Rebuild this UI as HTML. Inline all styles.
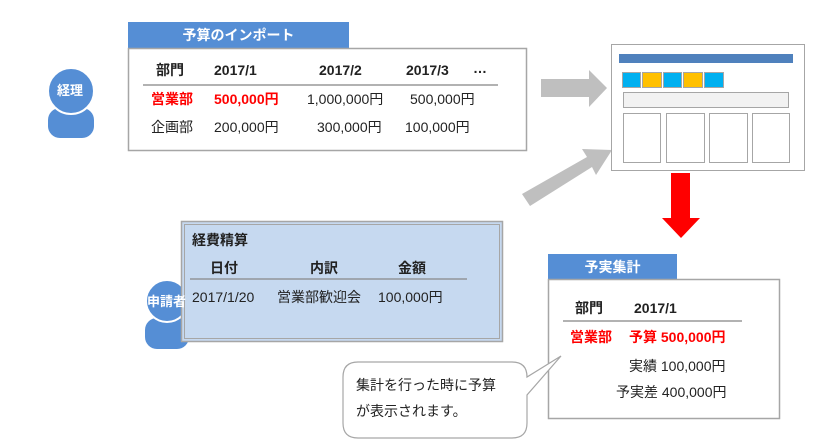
<!DOCTYPE html>
<html><head><meta charset="utf-8"><style>
body{margin:0;width:831px;height:447px;background:#fff;position:relative;overflow:hidden;font-family:"Liberation Sans","Noto Sans CJK JP",sans-serif;font-size:14px;line-height:16px;color:#222}
.a{position:absolute;white-space:nowrap;line-height:16px}
.b{font-weight:bold}
.r{color:#f00}
</style></head><body>
<svg class="a" style="left:0;top:0" width="831" height="447">
<g fill="#558ed5">
<rect x="48" y="108" width="46" height="30" rx="12"/><circle cx="71" cy="91" r="23" stroke="#fff" stroke-width="2"/>
<rect x="145" y="318" width="44" height="31" rx="12"/><circle cx="167" cy="301" r="21" stroke="#fff" stroke-width="2"/>
</g>
<rect x="128" y="22" width="221" height="26" fill="#558ed5"/>
<rect x="128.5" y="48.5" width="398" height="102" fill="#fff" stroke="#a6a6a6" stroke-width="1.5"/>
<line x1="143" y1="85" x2="498" y2="85" stroke="#999" stroke-width="1.5"/>
<polygon points="541,79 589,79 589,70 607,88 589,107 589,97 541,97" fill="#bfbfbf"/>
<polygon points="522,194 587,157 582,149 612,150 596,175 592,167 530,206" fill="#bfbfbf"/>
<polygon points="671,173 690,173 690,218 700,218 681,238 662,218 671,218" fill="#f00"/>
<rect x="611.5" y="44.5" width="193" height="126" fill="#fff" stroke="#a6a6a6"/>
<rect x="619" y="54" width="174" height="9" fill="#4f81bd"/>
<g stroke="#a6a6a6"><rect x="622.5" y="72.5" width="18" height="15" fill="#00b0f0"/><rect x="642.5" y="72.5" width="19" height="15" fill="#ffc000"/><rect x="663.5" y="72.5" width="18" height="15" fill="#00b0f0"/><rect x="683.5" y="72.5" width="19" height="15" fill="#ffc000"/><rect x="704.5" y="72.5" width="19" height="15" fill="#00b0f0"/>
<rect x="623.5" y="92.5" width="165" height="15" fill="#f2f2f2"/>
<rect x="623.5" y="113.5" width="37" height="49" fill="#fff"/><rect x="666.5" y="113.5" width="38" height="49" fill="#fff"/><rect x="709.5" y="113.5" width="38" height="49" fill="#fff"/><rect x="752.5" y="113.5" width="37" height="49" fill="#fff"/></g>
<rect x="181.5" y="221.5" width="321" height="120" fill="#c6d9f0" stroke="#a6a6a6" stroke-width="1.5"/>
<rect x="184.5" y="224.5" width="315" height="114" fill="none" stroke="#a6a6a6" stroke-width="1"/>
<line x1="190" y1="279" x2="467" y2="279" stroke="#888" stroke-width="1.2"/>
<rect x="548" y="254" width="129" height="25" fill="#558ed5"/>
<rect x="548.5" y="279.5" width="231" height="139" fill="#fff" stroke="#a6a6a6" stroke-width="1.5"/>
<line x1="563" y1="321" x2="742" y2="321" stroke="#999" stroke-width="1.5"/>
<path d="M358,362 H512 Q527,362 527,377 V377 L561,356 L527,395 V423 Q527,438 512,438 H358 Q343,438 343,423 V377 Q343,362 358,362 Z" fill="#fff" stroke="#a6a6a6" stroke-width="1.2"/>
</svg>
<div class="a b" style="left:128px;top:27px;width:221px;text-align:center;color:#fff">予算のインポート</div>
<div class="a b" style="left:57px;top:83px;color:#fff;font-size:13px">経理</div>
<div class="a b" style="left:156px;top:62px">部門</div>
<div class="a b" style="left:214px;top:62px">2017/1</div>
<div class="a b" style="left:319px;top:62px">2017/2</div>
<div class="a b" style="left:406px;top:62px">2017/3</div>
<div class="a b" style="left:473px;top:60px">…</div>
<div class="a b r" style="left:151px;top:91px">営業部</div>
<div class="a b r" style="left:214px;top:91px">500,000円</div>
<div class="a" style="left:307px;top:91px">1,000,000円</div>
<div class="a" style="left:410px;top:91px">500,000円</div>
<div class="a" style="left:151px;top:119px">企画部</div>
<div class="a" style="left:214px;top:119px">200,000円</div>
<div class="a" style="left:317px;top:119px">300,000円</div>
<div class="a" style="left:405px;top:119px">100,000円</div>
<div class="a b" style="left:192px;top:232px">経費精算</div>
<div class="a b" style="left:210px;top:260px">日付</div>
<div class="a b" style="left:310px;top:260px">内訳</div>
<div class="a b" style="left:398px;top:260px">金額</div>
<div class="a" style="left:192px;top:289px">2017/1/20</div>
<div class="a" style="left:277px;top:289px">営業部歓迎会</div>
<div class="a" style="left:378px;top:289px">100,000円</div>
<div class="a b" style="left:147px;top:294px;color:#fff;font-size:13px">申請者</div>
<div class="a b" style="left:548px;top:259px;width:129px;text-align:center;color:#fff">予実集計</div>
<div class="a b" style="left:575px;top:300px">部門</div>
<div class="a b" style="left:634px;top:300px">2017/1</div>
<div class="a b r" style="left:570px;top:329px">営業部</div>
<div class="a b r" style="left:629px;top:329px">予算 500,000円</div>
<div class="a" style="left:629px;top:358px">実績 100,000円</div>
<div class="a" style="left:616px;top:384px">予実差 400,000円</div>
<div class="a" style="left:356px;top:377px">集計を行った時に予算</div>
<div class="a" style="left:356px;top:403px">が表示されます。</div>
</body></html>
